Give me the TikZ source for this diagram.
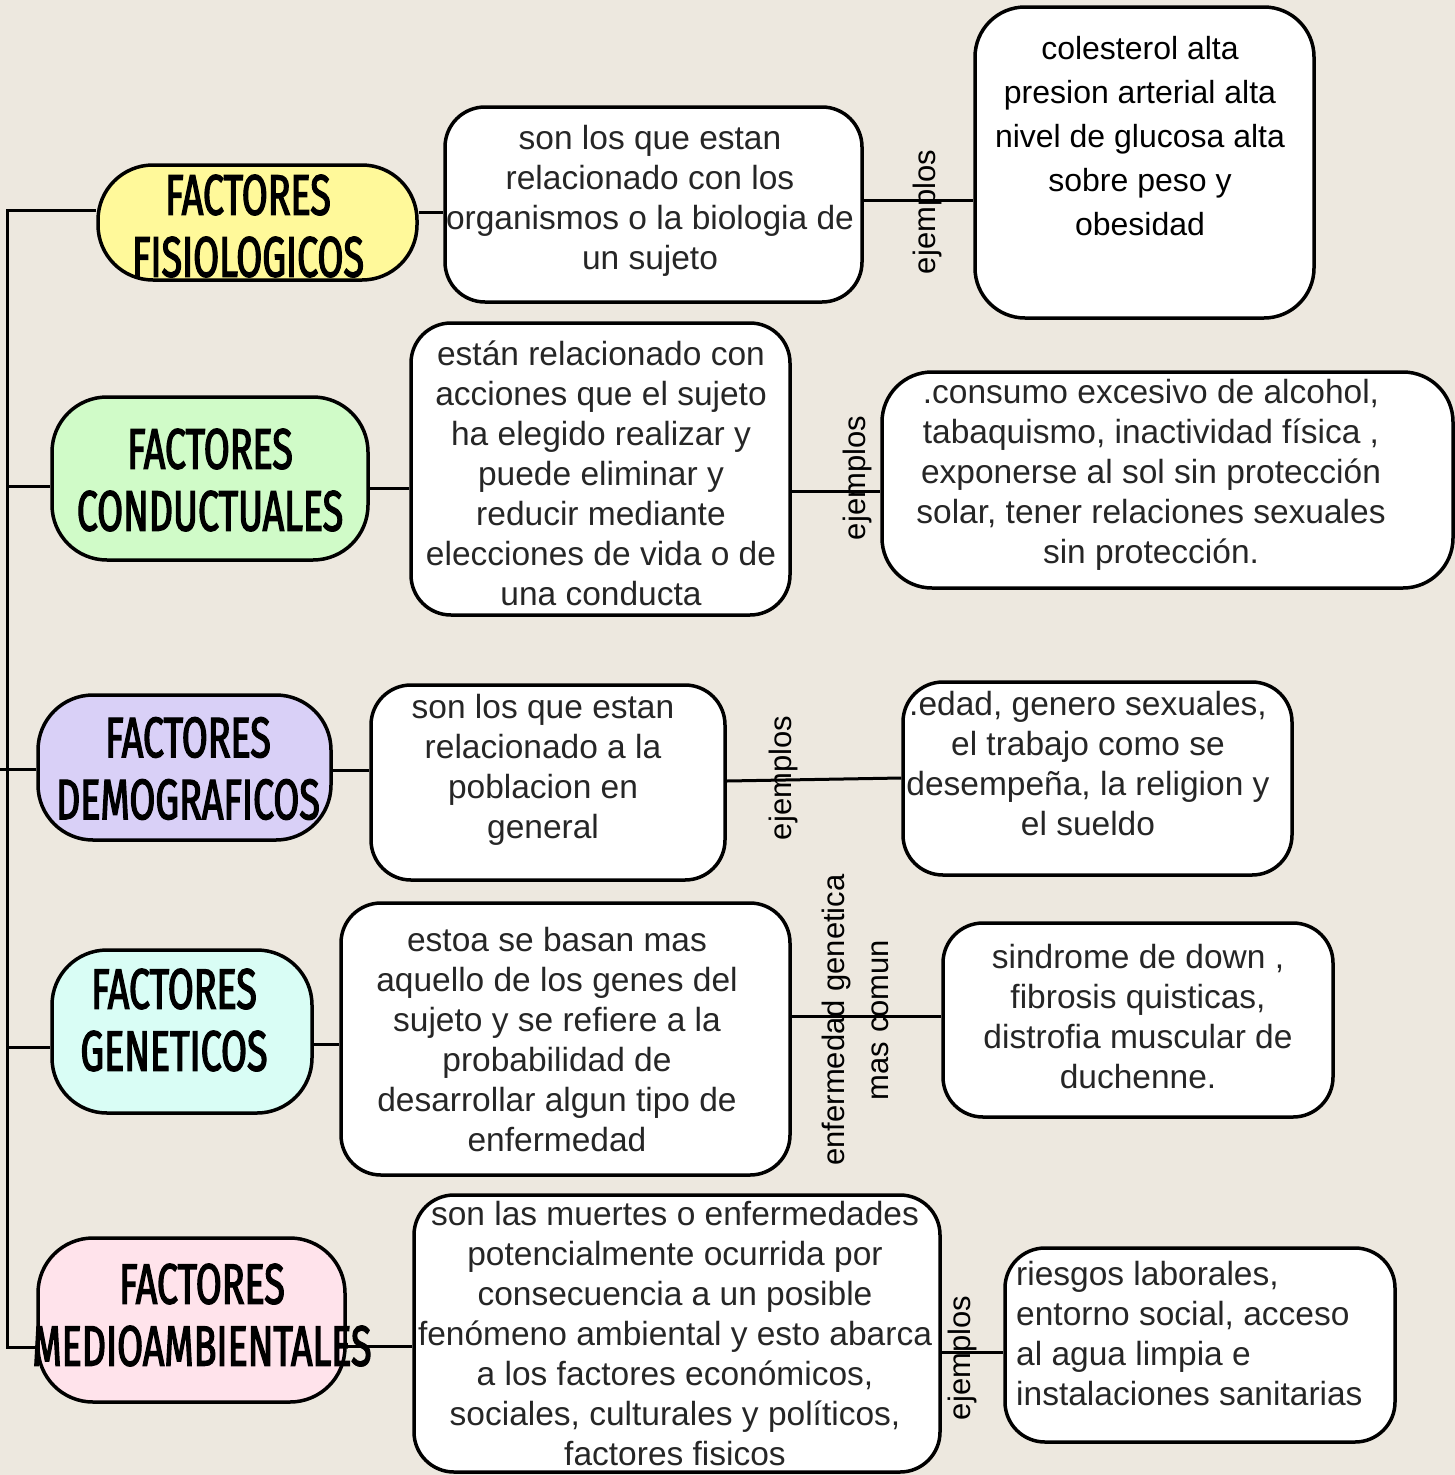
\documentclass[tikz,border=0pt]{standalone}
\usepackage{fontspec}
\setmainfont{Liberation Sans}
\newfontfamily\headfont[FakeStretch=0.66, FakeBold=2.2]{Fira Sans}
\usetikzlibrary{calc}
\definecolor{bgc}{RGB}{237,232,223}
\definecolor{txt}{RGB}{38,38,38}
\definecolor{cyel}{RGB}{255,249,154}
\definecolor{cgrn}{RGB}{208,251,200}
\definecolor{cpur}{RGB}{217,208,247}
\definecolor{ccyn}{RGB}{217,253,245}
\definecolor{cpnk}{RGB}{255,227,235}
\begin{document}
\begin{tikzpicture}[x=1pt,y=-1pt,
  factorbox/.style={draw=black, line width=3.5pt, rounded corners=55pt, inner sep=0pt},
  descbox/.style={draw=black, fill=white, line width=3.5pt, rounded corners=40pt, inner sep=0pt},
  headtxt/.style={font=\headfont\fontsize{57}{62}\selectfont, align=center, text=black, inner sep=0pt},
  bodytxt/.style={font=\fontsize{33.5}{40}\selectfont, align=center, text=txt, inner sep=0pt},
  conn/.style={line width=3pt, draw=black},
  lbl/.style={font=\fontsize{31}{44}\selectfont, rotate=90, align=center, text=black, inner sep=0pt}]
\useasboundingbox (0,0) rectangle (1455,1475);
\fill[bgc] (0,0) rectangle (1455,1475);

% trunk coordinates
\coordinate (t1) at (7,210);
\coordinate (t2) at (7,486);
\coordinate (t3) at (0,769);
\coordinate (t4) at (7,1047);
\coordinate (t5) at (7,1347);
% connector heights
\coordinate (y1) at (0,212);
\coordinate (y1b) at (0,200);
\coordinate (y2) at (0,488);
\coordinate (y2b) at (0,491);
\coordinate (y3) at (0,770);
\coordinate (y3a) at (0,781);
\coordinate (y3b) at (0,778);
\coordinate (y4) at (0,1044);
\coordinate (y4b) at (0,1016);
\coordinate (y5) at (0,1346);
\coordinate (y5b) at (0,1352);

% factor boxes
\node[factorbox, fill=cyel, minimum width=319pt, minimum height=115pt] (f1) at (257.5,222.5) {};
\node[factorbox, fill=cgrn, minimum width=316pt, minimum height=163pt] (f2) at (210,478.5) {};
\node[factorbox, fill=cpur, minimum width=293pt, minimum height=145pt] (f3) at (184.5,767.5) {};
\node[factorbox, fill=ccyn, minimum width=260pt, minimum height=163pt] (f4) at (182,1031.5) {};
\node[factorbox, fill=cpnk, minimum width=307pt, minimum height=164pt] (f5) at (191.5,1320) {};

% description boxes
\node[descbox, minimum width=417pt, minimum height=195pt] (d1) at (653.5,204.5) {};
\node[descbox, minimum width=379pt, minimum height=292pt] (d2) at (600.5,469) {};
\node[descbox, minimum width=354pt, minimum height=195pt] (d3) at (548,782.5) {};
\node[descbox, minimum width=449pt, minimum height=272pt] (d4) at (565.5,1039) {};
\node[descbox, minimum width=526pt, minimum height=277pt] (d5) at (677,1333.5) {};

% example boxes
\node[descbox, rounded corners=50pt, minimum width=339pt, minimum height=311pt] (e1) at (1144.5,162.5) {};
\node[descbox, rounded corners=50pt, minimum width=571pt, minimum height=216pt] (e2) at (1167.5,480) {};
\node[descbox, minimum width=389pt, minimum height=193pt] (e3) at (1097.5,778.5) {};
\node[descbox, minimum width=390pt, minimum height=194pt] (e4) at (1138,1020) {};
\node[descbox, minimum width=390pt, minimum height=194pt] (e5) at (1200,1345) {};

% trunk and branches
\draw[conn] (t1 -| f1.west) -- (t1) -- (t5) -- (t5 -| f5.west);
\draw[conn] (t2) -- (t2 -| f2.west);
\draw[conn] (t3) -- (t3 -| f3.west);
\draw[conn] (t4) -- (t4 -| f4.west);

% factor -> description
\draw[conn] (f1.east |- y1) -- (d1.west |- y1);
\draw[conn] (f2.east |- y2) -- (d2.west |- y2);
\draw[conn] (f3.east |- y3) -- (d3.west |- y3);
\draw[conn] (f4.east |- y4) -- (d4.west |- y4);
\draw[conn] (f5.east |- y5) -- (d5.west |- y5);

% description -> examples
\draw[conn] (d1.east |- y1b) -- (e1.west |- y1b);
\draw[conn] (d2.east |- y2b) -- (e2.west |- y2b);
\draw[conn] (d3.east |- y3a) -- (e3.west |- y3b);
\draw[conn] (d4.east |- y4b) -- (e4.west |- y4b);
\draw[conn] (d5.east |- y5b) -- (e5.west |- y5b);

% factor titles
\node[headtxt] (h1) at (248,226) {FACTORES\\FISIOLOGICOS};
\node[headtxt] (h2) at (210,480) {FACTORES\\CONDUCTUALES};
\node[headtxt] (h3) at (188,768.5) {FACTORES\\DEMOGRAFICOS};
\node[headtxt] (h4) at (174,1020) {FACTORES\\GENETICOS};
\node[headtxt] (h5) at (202,1315) {FACTORES\\MEDIOAMBIENTALES};

% description texts
\node[bodytxt] (td1) at (650,201) {son los que estan\\relacionado con los\\organismos o la biologia de\\un sujeto};
\node[bodytxt] (td2) at (601,473) {están relacionado con\\acciones que el sujeto\\ha elegido realizar y\\puede eliminar y\\reducir mediante\\elecciones de vida o de\\una conducta};
\node[bodytxt] (td3) at (543,770) {son los que estan\\relacionado a la\\poblacion en\\general};
\node[bodytxt] (td4) at (557,1040) {estoa se basan mas\\aquello de los genes del\\sujeto y se refiere a la\\probabilidad de\\desarrollar algun tipo de\\enfermedad};
\node[bodytxt] (td5) at (675,1334) {son las muertes o enfermedades\\potencialmente ocurrida por\\consecuencia a un posible\\fenómeno ambiental y esto abarca\\a los factores económicos,\\sociales, culturales y políticos,\\factores fisicos};

% example texts
\node[bodytxt, text=black, font=\fontsize{32}{44}\selectfont] (te1) at (1140,136) {colesterol alta\\presion arterial alta\\nivel de glucosa alta\\sobre peso y\\obesidad};
\node[bodytxt] (te2) at (1151,475) {.consumo excesivo de alcohol,\\tabaquismo, inactividad física ,\\exponerse al sol sin protección\\solar, tener relaciones sexuales\\sin protección.};
\node[bodytxt] (te3) at (1088,764) {.edad, genero sexuales,\\el trabajo como se\\desempeña, la religion y\\el sueldo};
\node[bodytxt] (te4) at (1138,1017) {sindrome de down ,\\fibrosis quisticas,\\distrofia muscular de\\duchenne.};
\node[bodytxt, align=left, anchor=west] (te5) at (1016,1334) {riesgos laborales,\\entorno social, acceso\\al agua limpia e\\instalaciones sanitarias};

% connector labels
\node[lbl] (l1) at (927,212) {ejemplos};
\node[lbl] (l2) at (857,478) {ejemplos};
\node[lbl] (l3) at (783,778) {ejemplos};
\node[lbl] (l4) at (855,1020) {enfermedad genetica\\mas comun};
\node[lbl] (l5) at (962,1358) {ejemplos};
\end{tikzpicture}
\end{document}
